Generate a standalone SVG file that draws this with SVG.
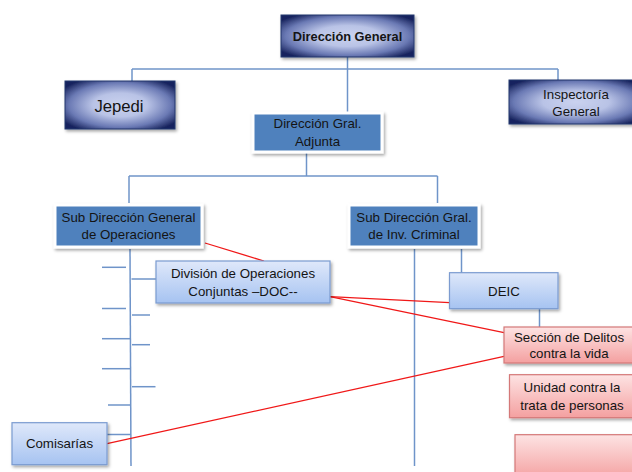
<svg xmlns="http://www.w3.org/2000/svg" width="632" height="472" viewBox="0 0 632 472">
<defs>
<radialGradient id="gDark" cx="50%" cy="50%" r="62%">
<stop offset="0" stop-color="#cad2ef"/>
<stop offset="0.4" stop-color="#b9c3e6"/>
<stop offset="0.75" stop-color="#6a79b4"/>
<stop offset="1" stop-color="#18245e"/>
</radialGradient>
<linearGradient id="gBlue" x1="0" y1="0" x2="0" y2="1">
<stop offset="0" stop-color="#dfe8fa"/>
<stop offset="1" stop-color="#a6c3f1"/>
</linearGradient>
<linearGradient id="gPink" x1="0" y1="0" x2="0" y2="1">
<stop offset="0" stop-color="#fde3e3"/>
<stop offset="1" stop-color="#f4a0a0"/>
</linearGradient>
<filter id="sh" x="-10%" y="-10%" width="130%" height="140%">
<feDropShadow dx="1.5" dy="2" stdDeviation="1.5" flood-color="#000" flood-opacity="0.35"/>
</filter>
</defs>
<style>
.dark{fill:url(#gDark);stroke:#24386f;stroke-width:1;filter:url(#sh)}
.solid{fill:#4f81bd;stroke:#ffffff;stroke-width:3;filter:url(#sh)}
.lb{fill:url(#gBlue);stroke:#7b9bd0;stroke-width:1.2;filter:url(#sh)}
.pk{fill:url(#gPink);stroke:#d47878;stroke-width:1.2;filter:url(#sh)}
text{font-family:"Liberation Sans",Arial,sans-serif;font-size:13.3px;fill:#141414;text-anchor:middle}
.b{font-weight:bold;font-size:12.8px}
.big{font-size:16.7px}
.cb line{stroke:#6f94c9;stroke-width:1.5;fill:none}
.cr line{stroke:#f01818;stroke-width:1.3}
</style>
<g id="connectors">
<g class="cb">
<line x1="347.5" y1="57" x2="347.5" y2="113"/>
<line x1="132" y1="69" x2="558" y2="69"/>
<line x1="132" y1="69" x2="132" y2="81"/>
<line x1="558" y1="69" x2="558" y2="80"/>
<line x1="306.5" y1="152" x2="306.5" y2="176"/>
<line x1="129" y1="176" x2="437.5" y2="176"/>
<line x1="129" y1="176" x2="129" y2="203"/>
<line x1="437.5" y1="176" x2="437.5" y2="203"/>
<line x1="130" y1="249" x2="131" y2="466"/>
<line x1="414.5" y1="249" x2="414.5" y2="466"/>
<line x1="461.5" y1="249" x2="461.5" y2="273"/>
<line x1="539.5" y1="309" x2="539.5" y2="327"/>
<line x1="102" y1="267.3" x2="126" y2="267.3"/>
<line x1="131.5" y1="279" x2="156" y2="279"/>
<line x1="102" y1="308.5" x2="126" y2="308.5"/>
<line x1="132" y1="315" x2="150" y2="315"/>
<line x1="102" y1="338.7" x2="131" y2="338.7"/>
<line x1="132" y1="344.7" x2="150" y2="344.7"/>
<line x1="102" y1="368.7" x2="131" y2="368.7"/>
<line x1="132" y1="386.7" x2="155.5" y2="386.7"/>
<line x1="108" y1="405" x2="131" y2="405"/>
<line x1="107" y1="434.5" x2="131" y2="434.5"/>
</g>
<g class="cr">
<line x1="205" y1="243" x2="264" y2="261"/>
<line x1="330" y1="296.7" x2="449.6" y2="302.7"/>
<line x1="330" y1="296.7" x2="504" y2="332.7"/>
<line x1="107" y1="443.7" x2="504" y2="356.3"/>
</g>
</g>
<g id="n-dg"><rect class="dark" x="281" y="15" width="133" height="42"/><text class="b" x="347.5" y="40.7">Dirección General</text></g>
<g id="n-jepedi"><rect class="dark" x="65" y="81" width="110" height="48"/><text class="big" x="119" y="111.7">Jepedi</text></g>
<g id="n-insp"><rect class="dark" x="509" y="80" width="134" height="44"/><text x="576" y="99">Inspectoría</text><text x="576" y="115.7">General</text></g>
<g id="n-adj"><rect class="solid" x="253" y="113" width="129" height="39"/><text x="317.5" y="127.7">Dirección Gral.</text><text x="317.5" y="145.7">Adjunta</text></g>
<g id="n-sdgo"><rect class="solid" x="55" y="205" width="147" height="42"/><text x="128.5" y="221.7">Sub Dirección General</text><text x="128.5" y="239">de Operaciones</text></g>
<g id="n-sdic"><rect class="solid" x="349" y="205" width="130" height="42"/><text x="414" y="221.7">Sub Dirección Gral.</text><text x="414" y="239">de Inv. Criminal</text></g>
<g id="n-doc"><rect class="lb" x="156" y="261" width="174" height="42"/><text x="243" y="278.3">División de Operaciones</text><text x="243" y="296">Conjuntas –DOC--</text></g>
<g id="n-deic"><rect class="lb" x="449.5" y="272.7" width="108.5" height="36"/><text x="504" y="296">DEIC</text></g>
<g id="n-seccion"><rect class="pk" x="504" y="327" width="135" height="36"/><text x="569" y="341.7">Sección de Delitos</text><text x="569" y="358.3">contra la vida</text></g>
<g id="n-unidad"><rect class="pk" x="509.5" y="374.7" width="128" height="43"/><text x="572" y="391.7">Unidad contra la</text><text x="572" y="410">trata de personas</text></g>
<g id="n-empty"><rect class="pk" x="515" y="434.7" width="125" height="45"/></g>
<g id="n-comisarias"><rect class="lb" x="12" y="422.7" width="95" height="42"/><text x="59.5" y="448.3">Comisarías</text></g>
</svg>
